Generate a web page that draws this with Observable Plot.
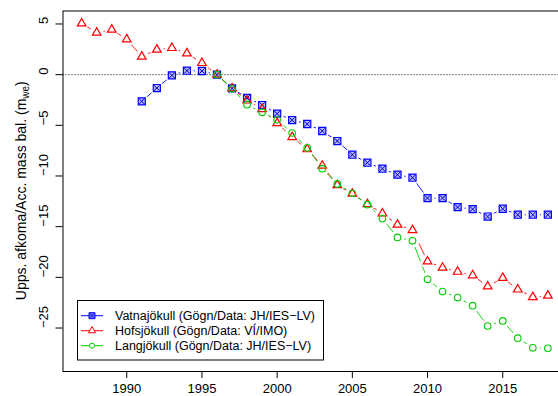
<!DOCTYPE html>
<html><head><meta charset="utf-8">
<script src="https://cdn.jsdelivr.net/npm/d3@7"></script>
<script src="https://cdn.jsdelivr.net/npm/@observablehq/plot@0.6"></script>
<style>
html,body{margin:0;padding:0;background:#fff;}
#chart{position:relative;width:558px;height:396px;overflow:hidden;font-family:"Liberation Sans",Arial,Helvetica,sans-serif;}
#chart svg{display:block;}
</style></head><body><div id="chart"></div>
<script>
// ---- data (cumulative mass balance, m w.e.) ----
const vatnaYears = [1991,1992,1993,1994,1995,1996,1997,1998,1999,2000,2001,2002,2003,2004,2005,2006,2007,2008,2009,2010,2011,2012,2013,2014,2015,2016,2017,2018];
const vatnaValues = [-2.64,-1.32,-0.07,0.39,0.36,0,-1.35,-2.3,-3.0,-3.85,-4.48,-4.87,-5.56,-6.55,-7.9,-8.69,-9.28,-9.87,-10.17,-12.18,-12.18,-13.07,-13.27,-14.0,-13.23,-13.82,-13.82,-13.82];

const hofsYears = [1987,1988,1989,1990,1991,1992,1993,1994,1995,1996,1997,1998,1999,2000,2001,2002,2003,2004,2005,2006,2007,2008,2009,2010,2011,2012,2013,2014,2015,2016,2017,2018];
const hofsValues = [5.05,4.14,4.44,3.48,1.78,2.47,2.63,2.1,1.15,0,-1.35,-2.55,-3.4,-4.78,-6.16,-7.36,-8.98,-10.9,-11.75,-12.77,-13.7,-14.8,-15.34,-18.43,-19.05,-19.45,-19.8,-20.9,-20.05,-21.2,-21.95,-21.8];

const langYears = [1996,1997,1998,1999,2000,2001,2002,2003,2004,2005,2006,2007,2008,2009,2010,2011,2012,2013,2014,2015,2016,2017,2018];
const langValues = [0,-1.4,-2.96,-3.72,-4.46,-5.76,-7.22,-9.28,-10.78,-11.7,-12.83,-14.2,-16.06,-16.4,-20.2,-21.4,-22.0,-22.8,-24.8,-24.3,-26.0,-26.95,-27.0];

const xTicks = [1990,1995,2000,2005,2010,2015];
const yTicks = [5,0,-5,-10,-15,-20,-25];
const seriesNames = ["Vatnajökull (Gögn/Data: JH/IES\u2212LV)","Hofsjökull (Gögn/Data: VÍ/IMO)","Langjökull (Gögn/Data: JH/IES\u2212LV)"];
const seriesColors = ["#0000FF","#FF0000","#00CD00"];
const yTitle = "Upps. afkoma/Acc. mass bal. (m";
const yTitleSub = "we";

// ---- build tables ----
const toRows = (years, values) => years.map((year, i) => ({year, value: values[i]}));
const vatna = toRows(vatnaYears, vatnaValues);
const hofs = toRows(hofsYears, hofsValues);
const lang = toRows(langYears, langValues);
const allPts = [...vatna, ...hofs, ...lang];
const fmt = d => d < 0 ? "\u2212" + Math.abs(d) : String(d);
const FONT = "Liberation Sans, Arial, Helvetica, sans-serif";

const plot = Plot.plot({
  width: 558, height: 396,
  marginLeft: 62.5, marginTop: 10.5, marginBottom: 25, marginRight: -8,
  style: {fontFamily: FONT, fontSize: "13px", background: "white", color: "black", overflow: "hidden"},
  x: {domain: [1985.76, 2019.24], axis: null},
  y: {domain: [-29.29, 6.28], axis: null},
  marks: [
    Plot.line(vatna, {x: "year", y: "value", stroke: seriesColors[0], strokeWidth: 0.9}),
    Plot.line(hofs, {x: "year", y: "value", stroke: seriesColors[1], strokeWidth: 0.9}),
    Plot.line(lang, {x: "year", y: "value", stroke: seriesColors[2], strokeWidth: 0.9}),
    Plot.dot(allPts, {x: "year", y: "value", r: 7, fill: "white", stroke: "none"}),
    Plot.ruleY([0], {stroke: "black", strokeDasharray: "1,2", strokeWidth: 1}),
    Plot.dot(vatna, {x: "year", y: "value", symbol: "square", r: 4, fill: "#b8b8ff", stroke: seriesColors[0], strokeWidth: 1.2}),
    Plot.dot(vatna, {x: "year", y: "value", symbol: "times", r: 2.6, stroke: "#0000c0", strokeWidth: 1}),
    Plot.dot(hofs, {x: "year", y: "value", symbol: "triangle", r: 3.2, fill: "none", stroke: seriesColors[1], strokeWidth: 1.2}),
    Plot.dot(lang, {x: "year", y: "value", symbol: "circle", r: 3.3, fill: "none", stroke: seriesColors[2], strokeWidth: 1.1}),
    Plot.frame({stroke: "black", strokeWidth: 1}),
    Plot.axisX(xTicks, {anchor: "bottom", label: null, tickSize: 7, tickPadding: 5, tickFormat: d => String(d), fontSize: 13, stroke: "black", fill: "black"}),
    Plot.axisY(yTicks, {anchor: "left", label: null, tickSize: 7, tickFormat: () => "", stroke: "black"}),
    Plot.text(yTicks, {y: d => d, text: fmt, frameAnchor: "left", dx: -19.5, rotate: -90, fontSize: 13, fill: "black"})
  ]
});

const chart = document.getElementById("chart");
chart.appendChild(plot);

// y-axis title with subscript
const svg = d3.select(plot);
const t = svg.append("text")
  .attr("transform", "translate(25.5,190.7) rotate(-90)")
  .attr("text-anchor", "middle")
  .attr("font-family", FONT)
  .attr("font-size", 14)
  .attr("fill", "black");
t.append("tspan").text(yTitle);
t.append("tspan").attr("font-size", 10).attr("dy", 3).text(yTitleSub);
t.append("tspan").attr("dy", -3).text(")");

// legend (overlay box)
const lg = d3.select(chart).append("svg")
  .attr("width", 247).attr("height", 61)
  .style("position", "absolute").style("left", "77px").style("top", "300px");
lg.append("rect").attr("x", 0.5).attr("y", 0.5).attr("width", 246).attr("height", 59.5)
  .attr("fill", "white").attr("stroke", "black").attr("stroke-width", 1);
const symbols = [d3.symbolSquare, d3.symbolTriangle, d3.symbolCircle];
seriesNames.forEach((name, i) => {
  const cy = 15.7 + i * 15;
  const g = lg.append("g");
  g.append("line").attr("x1", 4).attr("x2", 26).attr("y1", cy).attr("y2", cy)
    .attr("stroke", seriesColors[i]).attr("stroke-width", 1);
  const sizes = [36, 22, 20];
  const p = g.append("path").attr("transform", `translate(15,${cy})`)
    .attr("d", d3.symbol(symbols[i], sizes[i])());
  if (i === 0) {
    p.attr("fill", "#7070ff").attr("stroke", seriesColors[0]).attr("stroke-width", 1);
    g.append("path").attr("transform", `translate(15,${cy})`)
      .attr("d", d3.symbol(d3.symbolTimes, 14)()).attr("stroke", "#0000b0").attr("fill", "none").attr("stroke-width", 0.8);
  } else {
    p.attr("fill", "white").attr("stroke", seriesColors[i]).attr("stroke-width", 1);
  }
  g.append("text").attr("x", 38).attr("y", cy + 4.6)
    .attr("font-family", FONT).attr("font-size", 12.5).attr("fill", "black").text(name);
});
</script>
</body></html>
